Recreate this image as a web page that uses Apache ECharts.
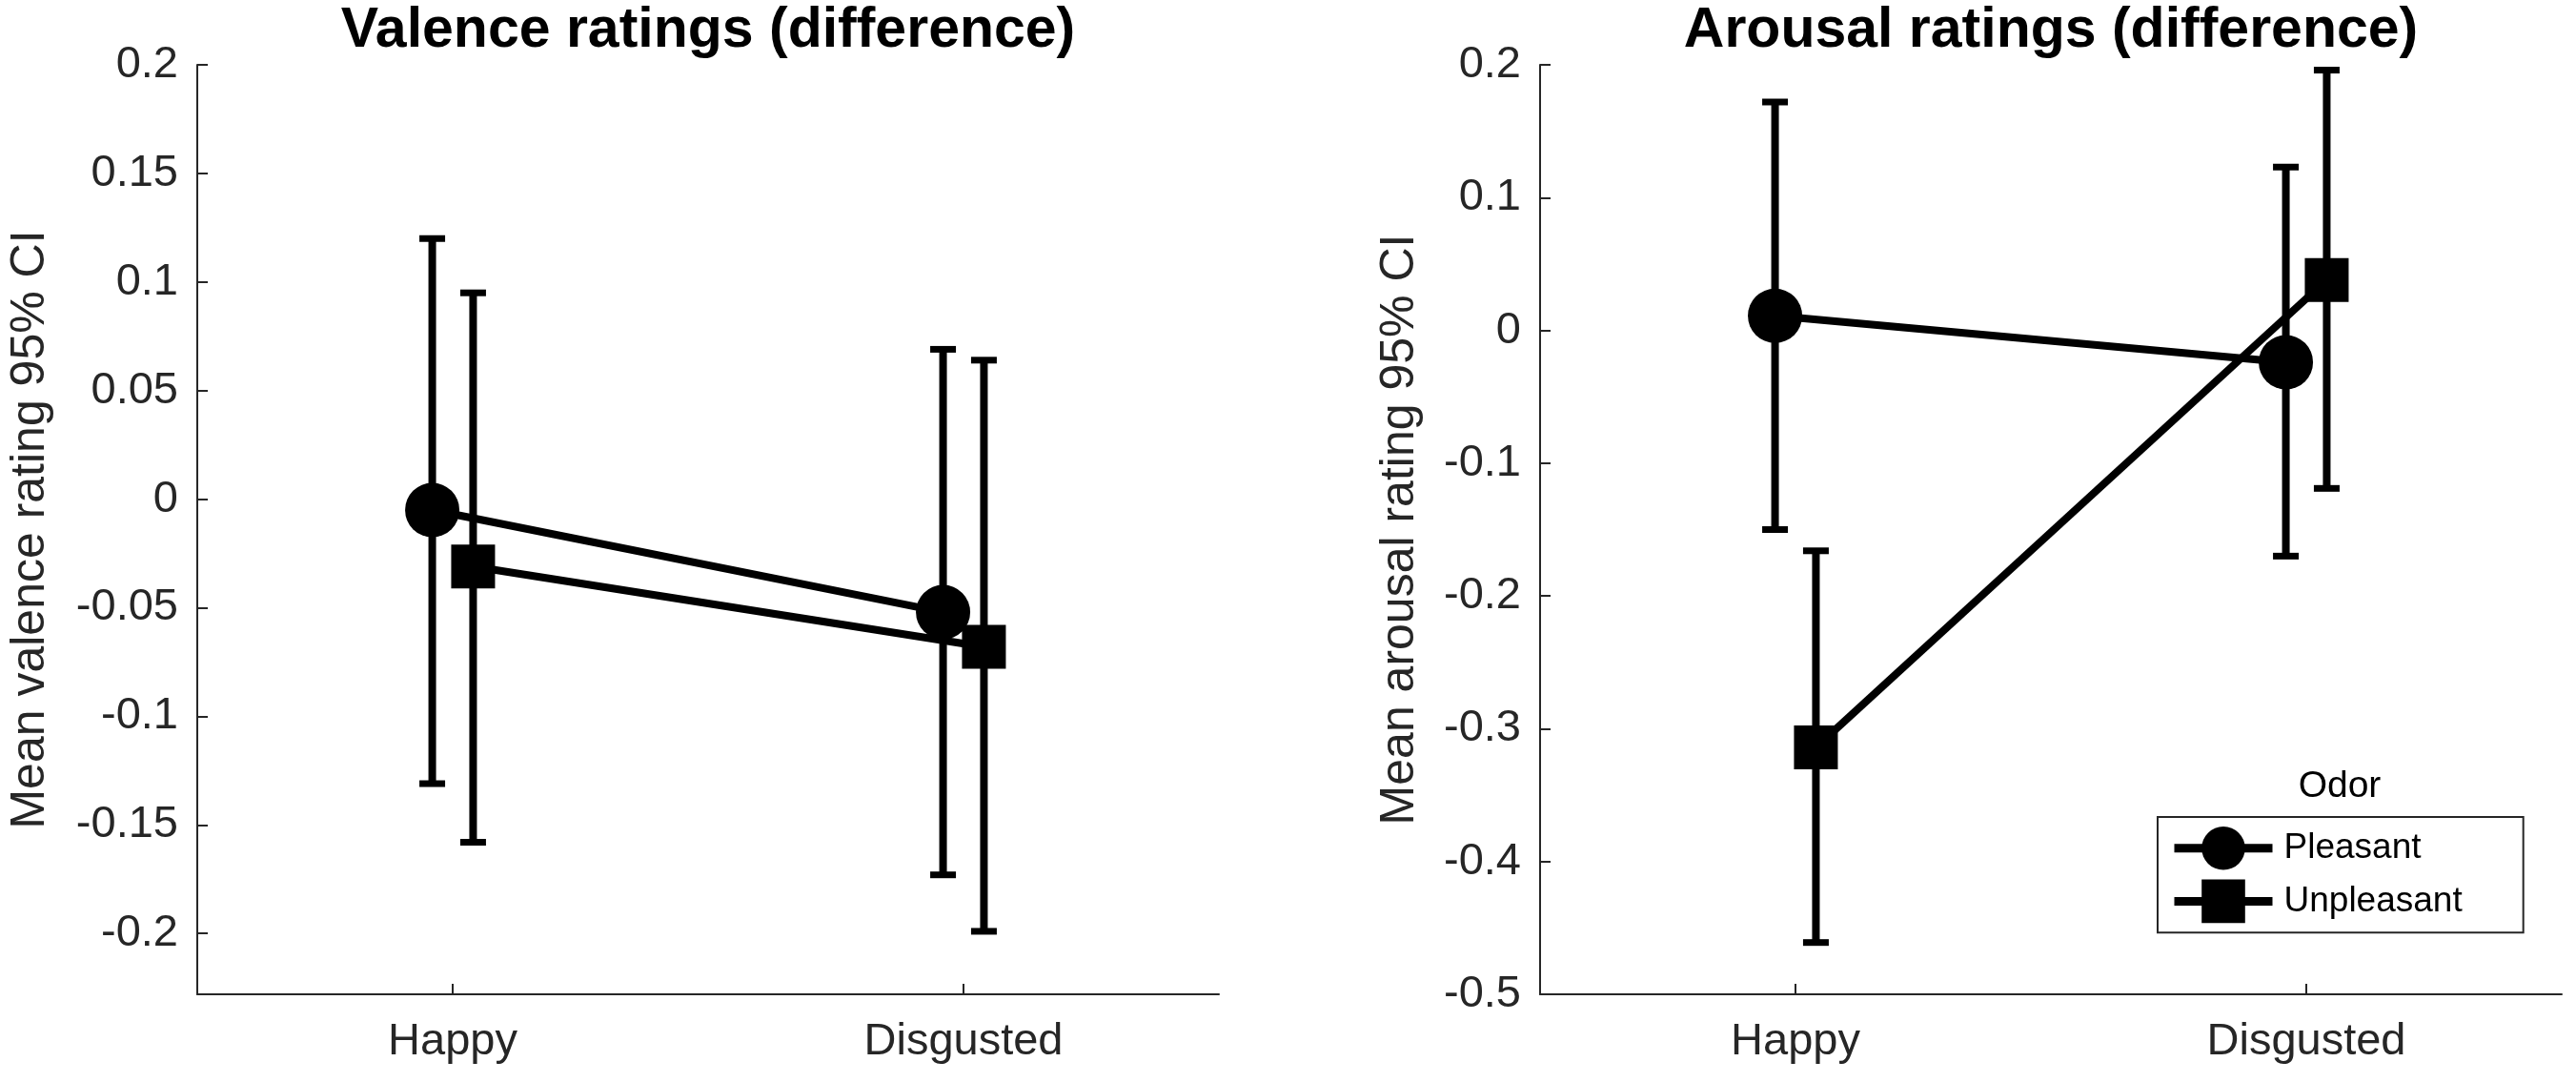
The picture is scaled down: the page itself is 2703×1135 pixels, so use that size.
<!DOCTYPE html>
<html>
<head>
<meta charset="utf-8">
<script src="https://cdn.jsdelivr.net/npm/echarts@6/dist/echarts.min.js"></script>
<style>
  html, body { margin: 0; padding: 0; background: #fff; }
  #chart { width: 2703px; height: 1135px; }
</style>
</head>
<body>
<div id="chart"></div>
<script>
// categories and groups
var categories = ['Happy', 'Disgusted'];
var odors = ['Pleasant', 'Unpleasant'];
var dodge = 0.04; // horizontal offset of the two odor groups

// valence: means and 95% CI bounds
var valencePleasantMean = [-0.005, -0.052];
var valencePleasantLow = [-0.131, -0.173];
var valencePleasantHigh = [0.120, 0.069];
var valenceUnpleasantMean = [-0.031, -0.068];
var valenceUnpleasantLow = [-0.158, -0.199];
var valenceUnpleasantHigh = [0.095, 0.064];

// arousal: means and 95% CI bounds
var arousalPleasantMean = [0.011, -0.024];
var arousalPleasantLow = [-0.150, -0.170];
var arousalPleasantHigh = [0.172, 0.123];
var arousalUnpleasantMean = [-0.314, 0.038];
var arousalUnpleasantLow = [-0.461, -0.119];
var arousalUnpleasantHigh = [-0.166, 0.196];

// tick labels
var valenceTicks = [-0.2, -0.15, -0.1, -0.05, 0, 0.05, 0.1, 0.15, 0.2];
var arousalTicks = [-0.5, -0.4, -0.3, -0.2, -0.1, 0, 0.1, 0.2];
var categoryTicks = [1, 2];

(function() {
  var font = '"Liberation Sans", Arial, Helvetica, sans-serif';
  var axisColor = '#262626';
  var ink = '#000';

  var chart = echarts.init(document.getElementById('chart'), null, { renderer: 'canvas' });

  function fmt(v) {
    return String(parseFloat(v.toFixed(3)));
  }

  function points(means, shift) {
    return means.map(function(m, i) { return [i + 1 + shift, m]; });
  }

  function bars(lows, highs, shift) {
    return lows.map(function(lo, i) { return [i + 1 + shift, lo, highs[i]]; });
  }

  // vertical CI bar with caps
  function renderErrorBar(params, api) {
    var x = api.value(0);
    var lo = api.coord([x, api.value(1)]);
    var hi = api.coord([x, api.value(2)]);
    var cap = 13.5;
    var stem = { stroke: ink, lineWidth: 8 };
    var capStyle = { stroke: ink, lineWidth: 7 };
    return {
      type: 'group',
      children: [
        { type: 'line', shape: { x1: lo[0], y1: lo[1], x2: hi[0], y2: hi[1] }, style: stem },
        { type: 'line', shape: { x1: hi[0] - cap, y1: hi[1], x2: hi[0] + cap, y2: hi[1] }, style: capStyle },
        { type: 'line', shape: { x1: lo[0] - cap, y1: lo[1], x2: lo[0] + cap, y2: lo[1] }, style: capStyle }
      ]
    };
  }

  function xAxis(idx) {
    return {
      gridIndex: idx,
      type: 'value',
      min: 0.5,
      max: 2.5,
      axisLine: { show: true, onZero: false, lineStyle: { color: axisColor, width: 2 } },
      axisTick: { show: true, inside: true, length: 11, customValues: categoryTicks, lineStyle: { color: axisColor, width: 2 } },
      axisLabel: {
        customValues: categoryTicks,
        formatter: function(v) { return categories[Math.round(v) - 1]; },
        fontSize: 47, fontFamily: font, color: axisColor, margin: 27
      },
      splitLine: { show: false }
    };
  }

  function yAxis(idx, min, max, ticks, name, gap) {
    return {
      gridIndex: idx,
      type: 'value',
      min: min,
      max: max,
      name: name,
      nameLocation: 'middle',
      nameGap: gap,
      nameRotate: 90,
      nameTextStyle: { fontSize: 50, fontFamily: font, color: axisColor },
      axisLine: { show: true, onZero: false, lineStyle: { color: axisColor, width: 2 } },
      axisTick: { show: true, inside: true, length: 11, customValues: ticks, lineStyle: { color: axisColor, width: 2 } },
      axisLabel: { customValues: ticks, formatter: fmt, fontSize: 47, fontFamily: font, color: axisColor, margin: 20 },
      splitLine: { show: false }
    };
  }

  function panel(idx, pMean, pLow, pHigh, uMean, uLow, uHigh) {
    return [
      { type: 'line', name: 'Pleasant', xAxisIndex: idx, yAxisIndex: idx, data: points(pMean, -dodge),
        symbol: 'circle', symbolSize: 57, itemStyle: { color: ink }, lineStyle: { color: ink, width: 8 }, z: 3 },
      { type: 'line', name: 'Unpleasant', xAxisIndex: idx, yAxisIndex: idx, data: points(uMean, dodge),
        symbol: 'rect', symbolSize: 46, itemStyle: { color: ink }, lineStyle: { color: ink, width: 8 }, z: 3 },
      { type: 'custom', name: 'Pleasant CI', xAxisIndex: idx, yAxisIndex: idx, renderItem: renderErrorBar,
        data: bars(pLow, pHigh, -dodge), z: 2 },
      { type: 'custom', name: 'Unpleasant CI', xAxisIndex: idx, yAxisIndex: idx, renderItem: renderErrorBar,
        data: bars(uLow, uHigh, dodge), z: 2 }
    ];
  }

  chart.setOption({
    animation: false,
    backgroundColor: '#fff',
    title: [
      { text: 'Valence ratings (difference)', left: 743, top: 3, textAlign: 'center', padding: 0,
        textStyle: { fontSize: 59, fontWeight: 'bold', fontFamily: font, color: ink } },
      { text: 'Arousal ratings (difference)', left: 2152, top: 3, textAlign: 'center', padding: 0,
        textStyle: { fontSize: 59, fontWeight: 'bold', fontFamily: font, color: ink } },
      { text: 'Odor', left: 2455, top: 806, textAlign: 'center', padding: 0,
        textStyle: { fontSize: 39, fontWeight: 'normal', fontFamily: font, color: ink } }
    ],
    legend: {
      data: odors,
      orient: 'vertical',
      left: 2264,
      top: 857,
      padding: [10, 64, 10, 13],
      itemGap: 10,
      itemWidth: 103,
      itemHeight: 57,
      borderColor: axisColor,
      borderWidth: 2,
      backgroundColor: '#fff',
      selectedMode: false,
      lineStyle: { width: 9, color: ink },
      textStyle: { fontSize: 37, fontFamily: font, color: ink, padding: [0, 0, 0, 7] }
    },
    grid: [
      { left: 207, top: 68, width: 1072, height: 975 },
      { left: 1616, top: 68, width: 1072, height: 975 }
    ],
    xAxis: [xAxis(0), xAxis(1)],
    yAxis: [
      yAxis(0, -0.228, 0.2, valenceTicks, 'Mean valence rating 95% CI', 150),
      yAxis(1, -0.5, 0.2, arousalTicks, 'Mean arousal rating 95% CI', 122)
    ],
    series: panel(0, valencePleasantMean, valencePleasantLow, valencePleasantHigh,
                  valenceUnpleasantMean, valenceUnpleasantLow, valenceUnpleasantHigh)
      .concat(panel(1, arousalPleasantMean, arousalPleasantLow, arousalPleasantHigh,
                    arousalUnpleasantMean, arousalUnpleasantLow, arousalUnpleasantHigh))
  });

  window.addEventListener('resize', function() { chart.resize(); });
})();
</script>
</body>
</html>
